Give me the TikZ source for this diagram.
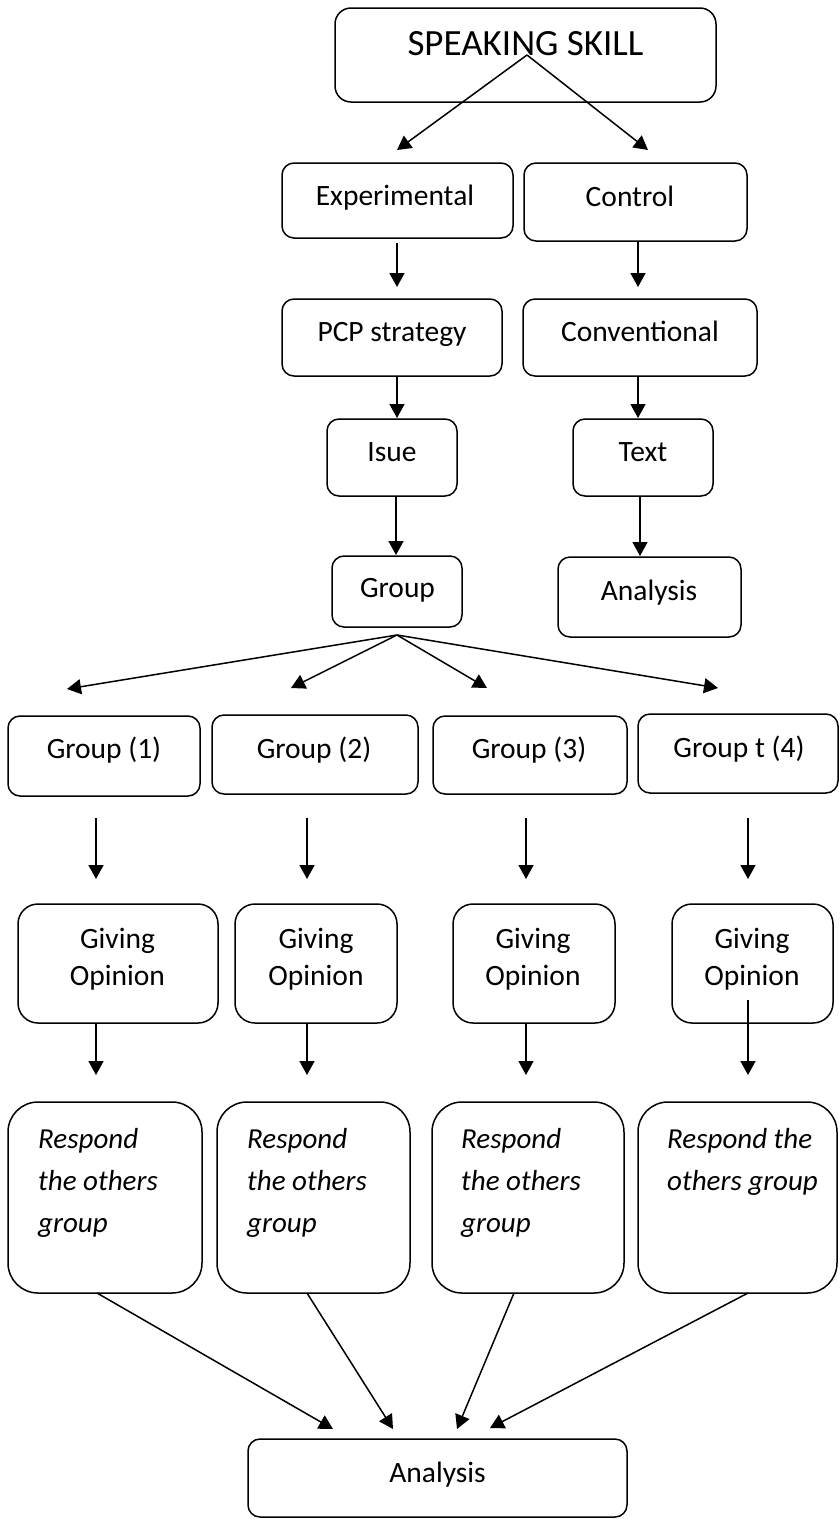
\documentclass[tikz,border=0pt]{standalone}
\usepackage{fontspec}
\setmainfont{Carlito}
\usetikzlibrary{arrows.meta}
\tikzset{
  box/.style={draw, line width=1.5pt, rounded corners=12pt, inner sep=0pt},
  txt/.style={anchor=base, inner sep=0pt, font=\fontsize{29.5}{36}\selectfont},
  itxt/.style={anchor=base west, inner sep=0pt, font=\fontsize{29}{42}\selectfont\itshape},
  arr/.style={line width=1.5pt, -{Triangle[length=14pt,width=15pt]}},
}
\begin{document}
\begin{tikzpicture}[x=1pt,y=-1pt]
\useasboundingbox (0,0) rectangle (839,1519);

% ---------- boxes ----------
\node[box, rounded corners=16pt, minimum width=381pt, minimum height=94pt] (ss) at (525.5,55) {};
\node[box, minimum width=231pt, minimum height=75pt] (exp) at (397.5,200.5) {};
\node[box, minimum width=223pt, minimum height=78pt] (ctl) at (635.5,202) {};
\node[box, minimum width=220pt, minimum height=77pt] (pcp) at (392,337.5) {};
\node[box, minimum width=234pt, minimum height=77pt] (conv) at (640,337.5) {};
\node[box, minimum width=130pt, minimum height=77pt] (isue) at (392,457.5) {};
\node[box, minimum width=140pt, minimum height=77pt] (text) at (643,457.5) {};
\node[box, minimum width=130pt, minimum height=71pt] (grp) at (397,591.5) {};
\node[box, minimum width=183pt, minimum height=80pt] (anaR) at (649.5,597) {};

\node[box, minimum width=192pt, minimum height=80pt] (g1) at (104,756) {};
\node[box, minimum width=206pt, minimum height=79pt] (g2) at (315,754.5) {};
\node[box, minimum width=194pt, minimum height=78pt] (g3) at (530,755) {};
\node[box, minimum width=200pt, minimum height=79pt] (g4) at (738,753.5) {};

\node[box, rounded corners=20pt, minimum width=200pt, minimum height=119pt] (go1) at (118,963.5) {};
\node[box, rounded corners=20pt, minimum width=162pt, minimum height=119pt] (go2) at (316,963.5) {};
\node[box, rounded corners=20pt, minimum width=162pt, minimum height=119pt] (go3) at (534,963.5) {};
\node[box, rounded corners=20pt, minimum width=161pt, minimum height=119pt] (go4) at (752.5,963.5) {};

\node[box, rounded corners=30pt, minimum width=194pt, minimum height=191pt] (r1) at (105,1197.5) {};
\node[box, rounded corners=30pt, minimum width=193pt, minimum height=191pt] (r2) at (313.5,1197.5) {};
\node[box, rounded corners=30pt, minimum width=192pt, minimum height=191pt] (r3) at (528,1197.5) {};
\node[box, rounded corners=30pt, minimum width=199pt, minimum height=191pt] (r4) at (737.5,1197.5) {};

\node[box, minimum width=379pt, minimum height=78pt] (ana) at (437.5,1478) {};

% ---------- texts ----------
\node[txt, font=\fontsize{37}{44}\selectfont] (sst) at (525.5,55) {SPEAKING SKILL};
\node[txt] (expt) at (395,205) {Experimental};
\node[txt] (ctlt) at (630,206) {Control};
\node[txt] (pcpt) at (392,341) {PCP strategy};
\node[txt] (convt) at (640,341) {Conventional};
\node[txt] (isuet) at (392,461) {Isue};
\node[txt] (textt) at (643,461) {Text};
\node[txt] (grpt) at (397.5,597) {Group};
\node[txt] (anaRt) at (649,600) {Analysis};

\node[txt] (g1t) at (104,758) {Group (1)};
\node[txt] (g2t) at (314,758) {Group (2)};
\node[txt] (g3t) at (529,758) {Group (3)};
\node[txt] (g4t) at (739,757) {Group t (4)};

\node[txt] (go1a) at (117.5,948) {Giving};
\node[txt] (go1b) at (117.5,985) {Opinion};
\node[txt] (go2a) at (316,948) {Giving};
\node[txt] (go2b) at (316,985) {Opinion};
\node[txt] (go3a) at (533,948) {Giving};
\node[txt] (go3b) at (533,985) {Opinion};
\node[txt] (go4a) at (752,948) {Giving};
\node[txt] (go4b) at (752,985) {Opinion};

\node[itxt] (r1a) at (38,1148) {Respond};
\node[itxt] (r1b) at (38,1190) {the others};
\node[itxt] (r1c) at (38,1232) {group};
\node[itxt] (r2a) at (247,1148) {Respond};
\node[itxt] (r2b) at (247,1190) {the others};
\node[itxt] (r2c) at (247,1232) {group};
\node[itxt] (r3a) at (461,1148) {Respond};
\node[itxt] (r3b) at (461,1190) {the others};
\node[itxt] (r3c) at (461,1232) {group};
\node[itxt] (r4a) at (667,1148) {Respond the};
\node[itxt] (r4b) at (667,1190) {others group};

\node[txt] (anat) at (437.5,1482) {Analysis};

% ---------- connector end points ----------
\coordinate (ssO) at (527,55);
\coordinate (tE) at (397,150);
\coordinate (tC) at (648,150);
\coordinate (e1) at (397,243);  \coordinate (e2) at (397,287);
\coordinate (c1) at (638,242);  \coordinate (c2) at (638,287);
\coordinate (p1) at (397,376);  \coordinate (p2) at (397,418);
\coordinate (v1) at (638,376);  \coordinate (v2) at (638,418);
\coordinate (i1) at (396,496);  \coordinate (i2) at (396,555);
\coordinate (x1) at (640,496);  \coordinate (x2) at (640,556);
\coordinate (gO) at (397,635);
\coordinate (f1) at (67,689);
\coordinate (f2) at (291,688);
\coordinate (f3) at (487,688);
\coordinate (f4) at (718,688);
\coordinate (a1) at (96,818);  \coordinate (b1) at (96,879);
\coordinate (a2) at (307,818); \coordinate (b2) at (307,879);
\coordinate (a3) at (526,818); \coordinate (b3) at (526,879);
\coordinate (a4) at (748,818); \coordinate (b4) at (748,879);
\coordinate (o1) at (96,1023);  \coordinate (q1) at (96,1075);
\coordinate (o2) at (307,1023); \coordinate (q2) at (307,1075);
\coordinate (o3) at (526,1023); \coordinate (q3) at (526,1075);
\coordinate (o4) at (748,1000); \coordinate (q4) at (748,1075);
\coordinate (s1) at (97,1293);  \coordinate (h1) at (333,1429);
\coordinate (s2) at (307,1293); \coordinate (h2) at (393,1429);
\coordinate (s3) at (514,1293); \coordinate (h3) at (457,1429);
\coordinate (s4) at (748,1293); \coordinate (h4) at (490,1428);

% ---------- connectors ----------
\draw[arr] (ssO) -- (tE);
\draw[arr] (ssO) -- (tC);
\draw[arr] (e1) -- (e2);
\draw[arr] (c1) -- (c2);
\draw[arr] (p1) -- (p2);
\draw[arr] (v1) -- (v2);
\draw[arr] (i1) -- (i2);
\draw[arr] (x1) -- (x2);
\draw[arr] (gO) -- (f1);
\draw[arr] (gO) -- (f2);
\draw[arr] (gO) -- (f3);
\draw[arr] (gO) -- (f4);
\foreach \k in {1,2,3,4}{
  \draw[arr] (a\k) -- (b\k);
  \draw[arr] (o\k) -- (q\k);
  \draw[arr] (s\k) -- (h\k);
}
\end{tikzpicture}
\end{document}
